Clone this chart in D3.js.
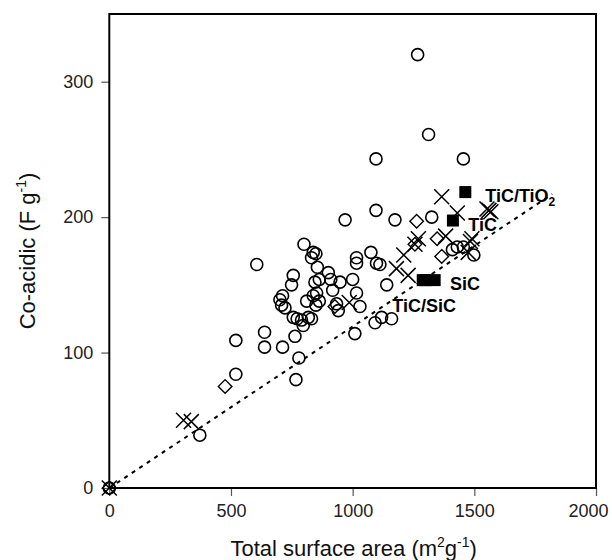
<!DOCTYPE html>
<html><head><meta charset="utf-8">
<script src="https://cdn.jsdelivr.net/npm/d3@7"></script>
<style>body{margin:0;background:#fff}svg{display:block}text{font-family:Arial,"Liberation Sans",Helvetica,sans-serif}</style>
</head><body><div id="chart"></div>
<script>
const xTicks = [0, 500, 1000, 1500, 2000];
const yTicks = [0, 100, 200, 300];
const circles = [
  [0,0],[372,39],[520,84],[520,109],[606,165],[638,115],[638,104],[712,104],[767,80],[779,96],
  [701,139],[708,135],[712,142],[722,133],[749,150],[756,157],[756,126],[763,112],[772,125],
  [790,124],[797,120],[818,126],[831,125],[800,180],[838,174],[849,173],[831,170],[855,163],
  [811,138],[838,142],[852,144],[863,138],[849,135],[845,152],[863,154],[900,159],[910,154],
  [948,152],[918,146],[1000,154],[1016,144],[1030,134],[934,136],[941,131],[1009,114],
  [1016,170],[1016,166],[1075,174],[1098,166],[1112,165],[1140,150],[1092,122],[1119,126],
  [1160,125],[969,198],[1096,205],[1174,198],[1325,200],[1096,243],[1312,261],[1267,320],
  [1455,243],[1410,176],[1430,178],[1455,178],[1498,172]
];
const diamonds = [[0,0],[476,75],[927,134],[1263,197],[1256,180],[1347,184],[1366,171]];
const crosses = [
  [0,0],[305,50],[337,49],[986,137],[1180,162],[1210,172],[1228,157],[1256,180],[1270,184],
  [1366,215],[1430,203],[1382,186],[1475,174],[1484,182],[1490,184],[1552,206],[1560,205],[1568,204]
];
const squares = [[1463,218.5],[1412,197.5],[1288,153.5],[1300,153.5],[1337,153.5]];
const fitLine = [[0,0],[1820,217]];
const labels = [
  {text:"TiC/TiO", sub:"2", x:1545, y:211},
  {text:"TiC", sub:"", x:1475, y:190},
  {text:"SiC", sub:"", x:1400, y:146},
  {text:"TiC/SiC", sub:"", x:1163, y:130}
];

const W = 612, H = 560;
const m = {left:109.3, right:596, top:14, bottom:488};
const svg = d3.select("#chart").append("svg").attr("width",W).attr("height",H);
const x = d3.scaleLinear().domain([0,2000]).range([m.left, m.right]);
const y = d3.scaleLinear().domain([0,350]).range([m.bottom, m.top]);

// fit line
svg.append("path").attr("d", d3.line().x(d=>x(d[0])).y(d=>y(d[1]))(fitLine))
  .attr("fill","none").attr("stroke","#000").attr("stroke-width",2).attr("stroke-dasharray","4,5");

// axes
const xa = svg.append("g").attr("transform",`translate(0,${m.bottom})`)
  .call(d3.axisBottom(x).tickValues(xTicks).tickSize(8).tickPadding(8).tickFormat(d3.format("d")));
const ya = svg.append("g").attr("transform",`translate(${m.left},0)`)
  .call(d3.axisLeft(y).tickValues(yTicks).tickSize(8).tickPadding(8).tickFormat(d3.format("d")));
[xa,ya].forEach(a=>{
  a.select(".domain").remove();
  a.selectAll(".tick line").attr("stroke","#555").attr("stroke-width",1.2);
  a.selectAll(".tick text").attr("font-size",18).attr("fill","#222").style("font-family","Arial, 'Liberation Sans', sans-serif");
});
// keep the last x label inside the picture, as in the reference
xa.selectAll(".tick text").filter(d=>d===2000).attr("text-anchor","end").attr("dx",12);

// markers
const g = svg.append("g");
g.selectAll("circle.c").data(circles).join("circle")
  .attr("cx",d=>x(d[0])).attr("cy",d=>y(d[1])).attr("r",6)
  .attr("fill","none").attr("stroke","#000").attr("stroke-width",1.6);
g.selectAll("path.d").data(diamonds).join("path")
  .attr("d",d=>{const cx=x(d[0]),cy=y(d[1]),s=6.8;return `M${cx},${cy-s}L${cx+s},${cy}L${cx},${cy+s}L${cx-s},${cy}Z`;})
  .attr("fill","none").attr("stroke","#000").attr("stroke-width",1.4);
g.selectAll("path.x").data(crosses).join("path")
  .attr("d",d=>{const cx=x(d[0]),cy=y(d[1]),s=7.5;return `M${cx-s},${cy-s}L${cx+s},${cy+s}M${cx-s},${cy+s}L${cx+s},${cy-s}`;})
  .attr("fill","none").attr("stroke","#000").attr("stroke-width",1.5);
g.selectAll("rect.s").data(squares).join("rect")
  .attr("x",d=>x(d[0])-6).attr("y",d=>y(d[1])-6).attr("width",12).attr("height",12).attr("fill","#000");

// labels
labels.forEach(l=>{
  const t = svg.append("text").attr("x",x(l.x)).attr("y",y(l.y)).attr("font-size",18).attr("font-weight","bold").text(l.text);
  if(l.sub) t.append("tspan").attr("font-size",12).attr("dy",4).text(l.sub);
});

// frame
svg.append("rect").attr("x",m.left).attr("y",m.top).attr("width",m.right-m.left).attr("height",m.bottom-m.top)
  .attr("fill","none").attr("stroke","#000").attr("stroke-width",2);

// axis titles
const xt = svg.append("text").attr("x",(m.left+m.right)/2+1).attr("y",556).attr("text-anchor","middle").attr("font-size",22).attr("fill","#111");
xt.append("tspan").text("Total surface area (m");
xt.append("tspan").attr("font-size",14).attr("dy",-9).text("2");
xt.append("tspan").attr("dy",9).text("g");
xt.append("tspan").attr("font-size",14).attr("dy",-9).text("-1");
xt.append("tspan").attr("dy",9).text(")");

const yt = svg.append("text").attr("transform",`translate(35,${(m.top+m.bottom)/2}) rotate(-90)`).attr("text-anchor","middle").attr("font-size",22).attr("fill","#111");
yt.append("tspan").text("Co-acidic (F g");
yt.append("tspan").attr("font-size",14).attr("dy",-9).text("-1");
yt.append("tspan").attr("dy",9).text(")");
</script></body></html>
